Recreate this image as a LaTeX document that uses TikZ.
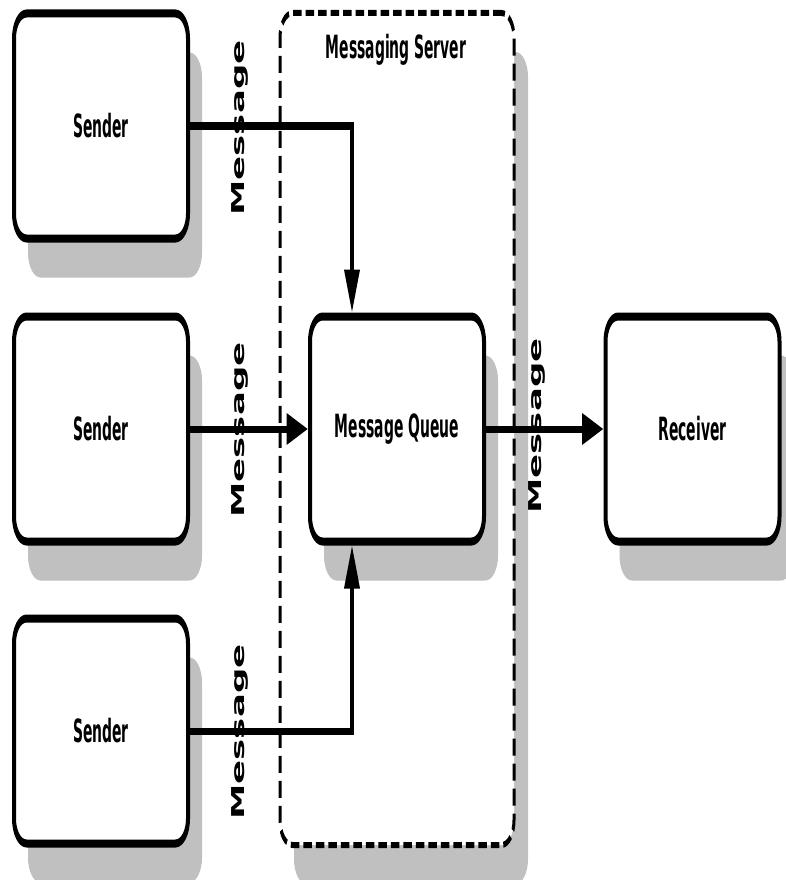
\documentclass[tikz,border=0pt]{standalone}
\usepackage{fontspec}
\setmainfont{DejaVu Sans}
\newfontfamily\boxfont{DejaVu Sans Bold}[FakeStretch=0.87]
\usetikzlibrary{arrows.meta,shadows}
\definecolor{shadowgray}{RGB}{192,192,192}
\begin{document}
\begin{tikzpicture}[x=1pt,y=-1pt]
\fill[white] (0,0) rectangle (786,880);
\useasboundingbox (0,0) rectangle (786,880);
% the whole drawing is set in a horizontally condensed canvas
\begin{scope}[transform canvas={xscale=0.5}, x=2pt,
  boxshadow/.style={drop shadow={shadow xshift=28pt, shadow yshift=-39pt,
      fill=shadowgray, opacity=1}},
  procbox/.style={draw, line width=8pt, rounded corners=25pt, fill=white,
      minimum width=348pt, minimum height=225pt, boxshadow,
      font=\boxfont\fontsize{32}{37}\selectfont},
  serverbox/.style={draw, line width=6pt, dash pattern=on 17pt off 8pt,
      rounded corners=25pt, fill=white, minimum width=468pt,
      minimum height=832pt, boxshadow},
  titletext/.style={font=\boxfont\fontsize{32}{37}\selectfont},
  flow/.style={line width=7pt, -{Triangle[length=43pt,width=30pt]}},
  msglabel/.style={rotate=90, font=\fontsize{35.5}{40}\selectfont\bfseries}
]
  % messaging server container
  \node[serverbox] (server) at (397,429) {};
  \node[titletext] (title) at (396,50) {Messaging Server};

  % senders, queue and receiver
  \node[procbox] (s1) at (101,126) {Sender};
  \node[procbox] (s2) at (101,429) {Sender};
  \node[procbox] (s3) at (101,731) {Sender};
  \node[procbox] (mq) at (397,429) {Message Queue};
  \node[procbox] (rcv) at (692.5,429) {Receiver};

  % message flows
  \coordinate (j1) at (352,126);
  \coordinate (j3) at (352,731);
  \draw[flow] (s1.east) -- (j1) -- (j1 |- mq.north);
  \draw[flow] (s2.east) -- (mq.west);
  \draw[flow] (s3.east) -- (j3) -- (j3 |- mq.south);
  \draw[flow] (mq.east) -- (rcv.west);

  % flow labels
  \node[msglabel] (m1) at (240,128) {Message};
  \node[msglabel] (m2) at (240,430) {Message};
  \node[msglabel] (m3) at (240,732) {Message};
  \node[msglabel] (m4) at (537,426) {Message};
\end{scope}
\end{tikzpicture}
\end{document}
